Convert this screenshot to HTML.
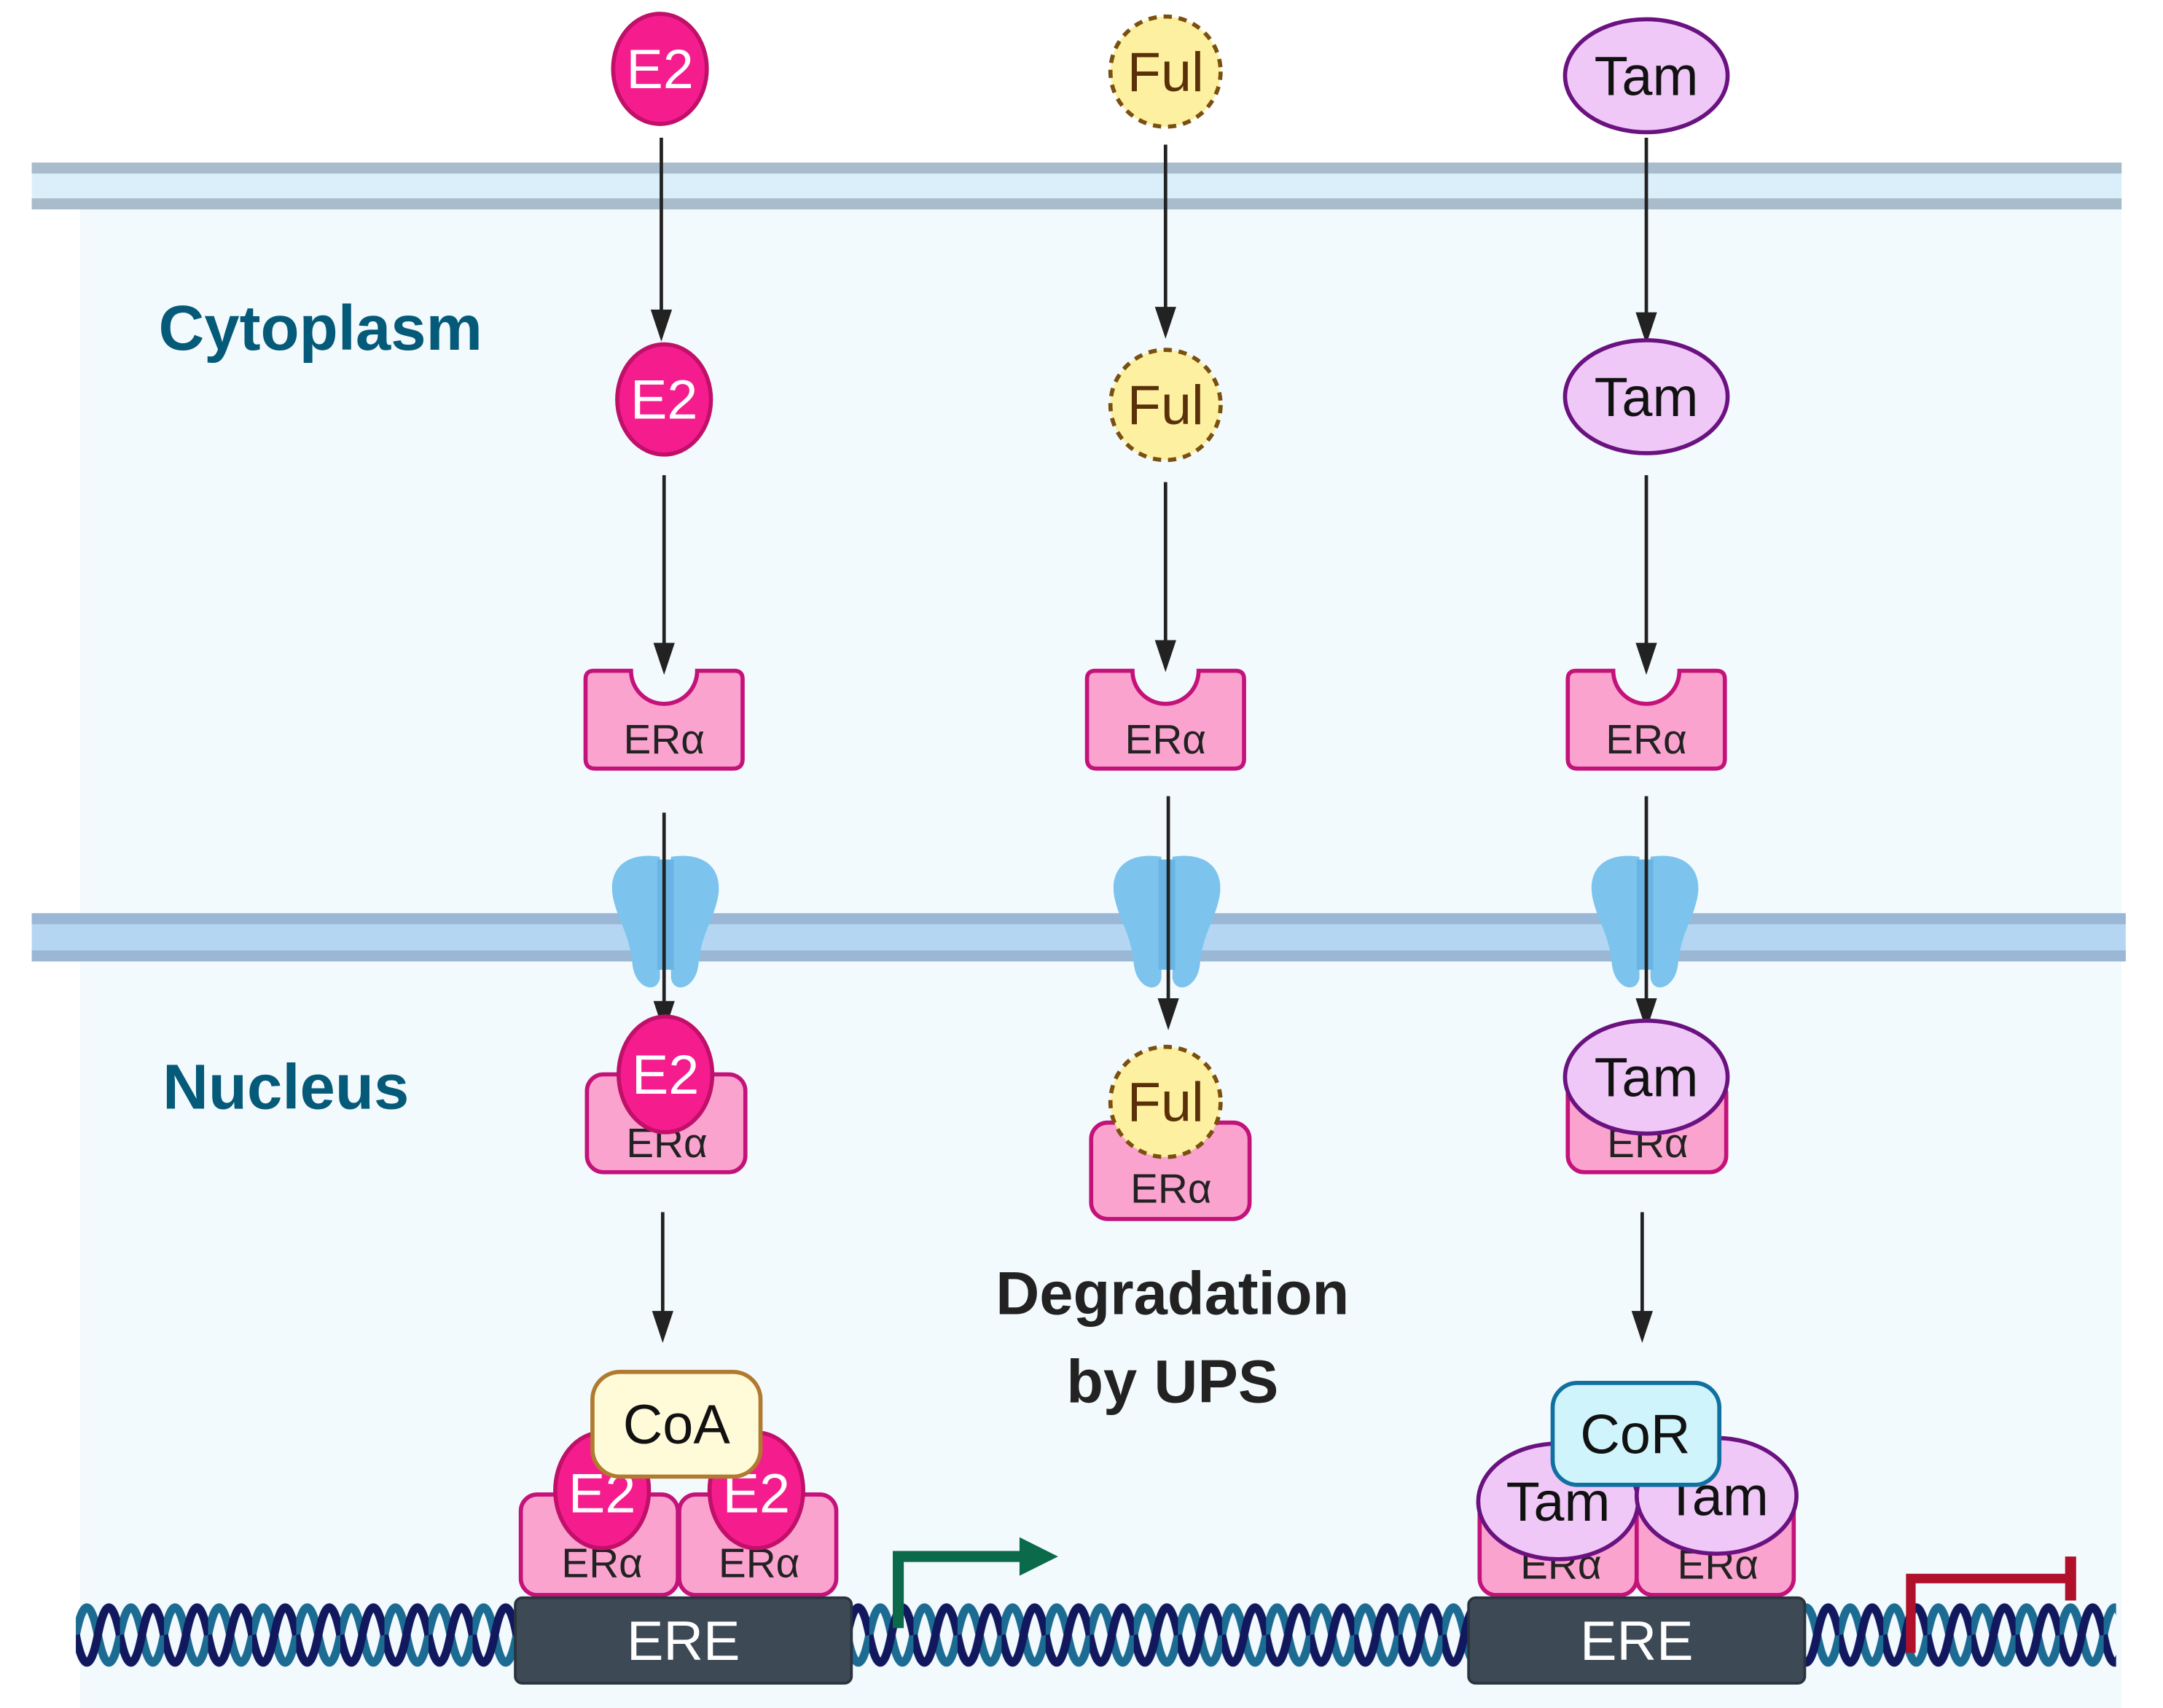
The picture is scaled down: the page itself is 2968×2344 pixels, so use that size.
<!DOCTYPE html>
<html><head><meta charset="utf-8"><style>
html,body{margin:0;padding:0;background:#fff;}
svg{display:block;}
text{font-family:"Liberation Sans",sans-serif;}
</style></head><body>
<svg width="2968" height="2344" viewBox="0 0 1570 1240" xmlns="http://www.w3.org/2000/svg">
<defs>
<pattern id="dna" x="55" y="1157" width="32" height="60" patternUnits="userSpaceOnUse">
<path d="M0,30 Q8,-10 16,30 T32,30" fill="none" stroke="#1b6b92" stroke-width="6"/>
<path d="M0,30 Q8,70 16,30 T32,30" fill="none" stroke="#11185e" stroke-width="6"/>
</pattern>
<g id="rec">
<path d="M-57,-30 Q-57,-36 -51,-36 L-24,-36 A24,24 0 0 0 24,-36 L51,-36 Q57,-36 57,-30 L57,28 Q57,35 50,35 L-50,35 Q-57,35 -57,28 Z" fill="#fba3cf" stroke="#c3127a" stroke-width="3"/>
</g>
<g id="pore">
<path d="M-4,-48 C-30,-52 -42,-38 -38,-18 C-34,0 -26,8 -24,30 C-22,48 -6,52 -4,40 Z" fill="#7cc3ee"/>
<path d="M4,-48 C30,-52 42,-38 38,-18 C34,0 26,8 24,30 C22,48 6,52 4,40 Z" fill="#7cc3ee"/>
<rect x="-6" y="-46" width="12" height="80" fill="#69b4e4"/>
</g>
</defs>

<rect x="58" y="150" width="1482" height="1090" fill="#f3fafd"/>
<rect x="23" y="118" width="1517" height="34" fill="#dbeffa"/>
<rect x="23" y="118" width="1517" height="8" fill="#a9bccb"/>
<rect x="23" y="144" width="1517" height="8" fill="#a9bccb"/>
<rect x="23" y="663" width="1520" height="35" fill="#b5d6f2"/>
<rect x="23" y="663" width="1520" height="8" fill="#9ab8d6"/>
<rect x="23" y="690" width="1520" height="8" fill="#9ab8d6"/>

<use href="#pore" x="483" y="670"/>
<use href="#pore" x="847" y="670"/>
<use href="#pore" x="1194" y="670"/>

<text x="115" y="254" font-size="46" font-weight="bold" fill="#045a78">Cytoplasm</text>
<text x="118" y="805" font-size="46" font-weight="bold" fill="#045a78">Nucleus</text>
<text x="851" y="954" font-size="44" font-weight="bold" fill="#222" text-anchor="middle">Degradation</text>
<text x="851" y="1018" font-size="44" font-weight="bold" fill="#222" text-anchor="middle">by UPS</text>

<g stroke="#222" stroke-width="2.5" fill="#222">
<line x1="480" y1="100" x2="480" y2="228"/><path d="M474,226 L486,226 L480,244 Z"/>
<line x1="846" y1="105" x2="846" y2="226"/><path d="M840,224 L852,224 L846,242 Z"/>
<line x1="1195" y1="100" x2="1195" y2="230"/><path d="M1189,228 L1201,228 L1195,246 Z"/>
<line x1="482" y1="345" x2="482" y2="470"/><path d="M476,468 L488,468 L482,486 Z"/>
<line x1="846" y1="350" x2="846" y2="468"/><path d="M840,466 L852,466 L846,484 Z"/>
<line x1="1195" y1="345" x2="1195" y2="470"/><path d="M1189,468 L1201,468 L1195,486 Z"/>
<line x1="482" y1="590" x2="482" y2="730"/><path d="M476,728 L488,728 L482,746 Z"/>
<line x1="848" y1="578" x2="848" y2="728"/><path d="M842,726 L854,726 L848,744 Z"/>
<line x1="1195" y1="578" x2="1195" y2="728"/><path d="M1189,726 L1201,726 L1195,744 Z"/>
<line x1="481" y1="880" x2="481" y2="955"/><path d="M475,953 L487,953 L481,971 Z"/>
<line x1="1192" y1="880" x2="1192" y2="955"/><path d="M1186,953 L1198,953 L1192,971 Z"/>
</g>

<ellipse cx="479" cy="50" rx="34" ry="40" fill="#f51d8d" stroke="#c0106a" stroke-width="3"/>
<text x="479" y="64" font-size="40" fill="#fff" text-anchor="middle">E2</text>
<circle cx="846" cy="52" r="40" fill="#fdf0a0" stroke="#7a5010" stroke-width="3" stroke-dasharray="6,5"/>
<text x="846" y="66" font-size="40" fill="#5a3008" text-anchor="middle">Ful</text>
<ellipse cx="1195" cy="55" rx="59" ry="41" fill="#f0c8f8" stroke="#6a1280" stroke-width="3"/>
<text x="1195" y="69" font-size="40" fill="#111" text-anchor="middle">Tam</text>

<ellipse cx="482" cy="290" rx="34" ry="40" fill="#f51d8d" stroke="#c0106a" stroke-width="3"/>
<text x="482" y="304" font-size="40" fill="#fff" text-anchor="middle">E2</text>
<circle cx="846" cy="294" r="40" fill="#fdf0a0" stroke="#7a5010" stroke-width="3" stroke-dasharray="6,5"/>
<text x="846" y="308" font-size="40" fill="#5a3008" text-anchor="middle">Ful</text>
<ellipse cx="1195" cy="288" rx="59" ry="41" fill="#f0c8f8" stroke="#6a1280" stroke-width="3"/>
<text x="1195" y="302" font-size="40" fill="#111" text-anchor="middle">Tam</text>

<use href="#rec" x="482" y="523"/>
<text x="482" y="547" font-size="30" fill="#222" text-anchor="middle">ERα</text>
<use href="#rec" x="846" y="523"/>
<text x="846" y="547" font-size="30" fill="#222" text-anchor="middle">ERα</text>
<use href="#rec" x="1195" y="523"/>
<text x="1195" y="547" font-size="30" fill="#222" text-anchor="middle">ERα</text>

<rect x="426" y="780" width="115" height="71" rx="12" fill="#fba3cf" stroke="#c3127a" stroke-width="3"/>
<text x="484" y="840" font-size="30" fill="#222" text-anchor="middle">ERα</text>
<ellipse cx="483" cy="780" rx="34" ry="42" fill="#f51d8d" stroke="#c0106a" stroke-width="3"/>
<text x="483" y="794" font-size="40" fill="#fff" text-anchor="middle">E2</text>

<rect x="792" y="815" width="115" height="70" rx="12" fill="#fba3cf" stroke="#c3127a" stroke-width="3"/>
<text x="850" y="873" font-size="30" fill="#222" text-anchor="middle">ERα</text>
<circle cx="846" cy="800" r="40" fill="#fdf0a0" stroke="#7a5010" stroke-width="3" stroke-dasharray="6,5"/>
<text x="846" y="814" font-size="40" fill="#5a3008" text-anchor="middle">Ful</text>

<rect x="1138" y="782" width="115" height="69" rx="12" fill="#fba3cf" stroke="#c3127a" stroke-width="3"/>
<text x="1196" y="840" font-size="30" fill="#222" text-anchor="middle">ERα</text>
<ellipse cx="1195" cy="782" rx="59" ry="41" fill="#f0c8f8" stroke="#6a1280" stroke-width="3"/>
<text x="1195" y="796" font-size="40" fill="#111" text-anchor="middle">Tam</text>

<rect x="55" y="1157" width="1481" height="60" fill="url(#dna)"/>

<rect x="378" y="1085" width="114" height="73" rx="12" fill="#fba3cf" stroke="#c3127a" stroke-width="3"/>
<rect x="493" y="1085" width="114" height="73" rx="12" fill="#fba3cf" stroke="#c3127a" stroke-width="3"/>
<text x="437" y="1145" font-size="30" fill="#222" text-anchor="middle">ERα</text>
<text x="551" y="1145" font-size="30" fill="#222" text-anchor="middle">ERα</text>
<ellipse cx="437" cy="1082" rx="34" ry="42" fill="#f51d8d" stroke="#c0106a" stroke-width="3"/>
<ellipse cx="549" cy="1082" rx="34" ry="42" fill="#f51d8d" stroke="#c0106a" stroke-width="3"/>
<text x="437" y="1098" font-size="40" fill="#fff" text-anchor="middle">E2</text>
<text x="549" y="1098" font-size="40" fill="#fff" text-anchor="middle">E2</text>
<rect x="430" y="996" width="122" height="76" rx="20" fill="#fffbd8" stroke="#b07a30" stroke-width="3"/>
<text x="491" y="1048" font-size="40" fill="#111" text-anchor="middle">CoA</text>
<rect x="374" y="1160" width="244" height="62" rx="5" fill="#3d4a56" stroke="#2a343e" stroke-width="2"/>
<text x="496" y="1205" font-size="40" fill="#fff" text-anchor="middle">ERE</text>

<rect x="1074" y="1085" width="114" height="73" rx="12" fill="#fba3cf" stroke="#c3127a" stroke-width="3"/>
<rect x="1188" y="1085" width="114" height="73" rx="12" fill="#fba3cf" stroke="#c3127a" stroke-width="3"/>
<text x="1133" y="1146" font-size="30" fill="#222" text-anchor="middle">ERα</text>
<text x="1247" y="1146" font-size="30" fill="#222" text-anchor="middle">ERα</text>
<ellipse cx="1131" cy="1090" rx="58" ry="42" fill="#f0c8f8" stroke="#6a1280" stroke-width="3"/>
<ellipse cx="1246" cy="1086" rx="58" ry="42" fill="#f0c8f8" stroke="#6a1280" stroke-width="3"/>
<text x="1131" y="1104" font-size="40" fill="#111" text-anchor="middle">Tam</text>
<text x="1246" y="1100" font-size="40" fill="#111" text-anchor="middle">Tam</text>
<rect x="1127" y="1004" width="121" height="74" rx="18" fill="#d0f4fc" stroke="#1070a0" stroke-width="3"/>
<text x="1187" y="1055" font-size="40" fill="#111" text-anchor="middle">CoR</text>
<rect x="1066" y="1160" width="244" height="62" rx="5" fill="#3d4a56" stroke="#2a343e" stroke-width="2"/>
<text x="1188" y="1205" font-size="40" fill="#fff" text-anchor="middle">ERE</text>

<path d="M652,1182 L652,1130 L745,1130" fill="none" stroke="#0a6a4a" stroke-width="8"/>
<path d="M740,1116 L768,1130 L740,1144 Z" fill="#0a6a4a"/>
<path d="M1387,1200 L1387,1146 L1503,1146" fill="none" stroke="#b0102a" stroke-width="7"/>
<line x1="1503" y1="1130" x2="1503" y2="1162" stroke="#b0102a" stroke-width="8"/>
</svg>
</body></html>
